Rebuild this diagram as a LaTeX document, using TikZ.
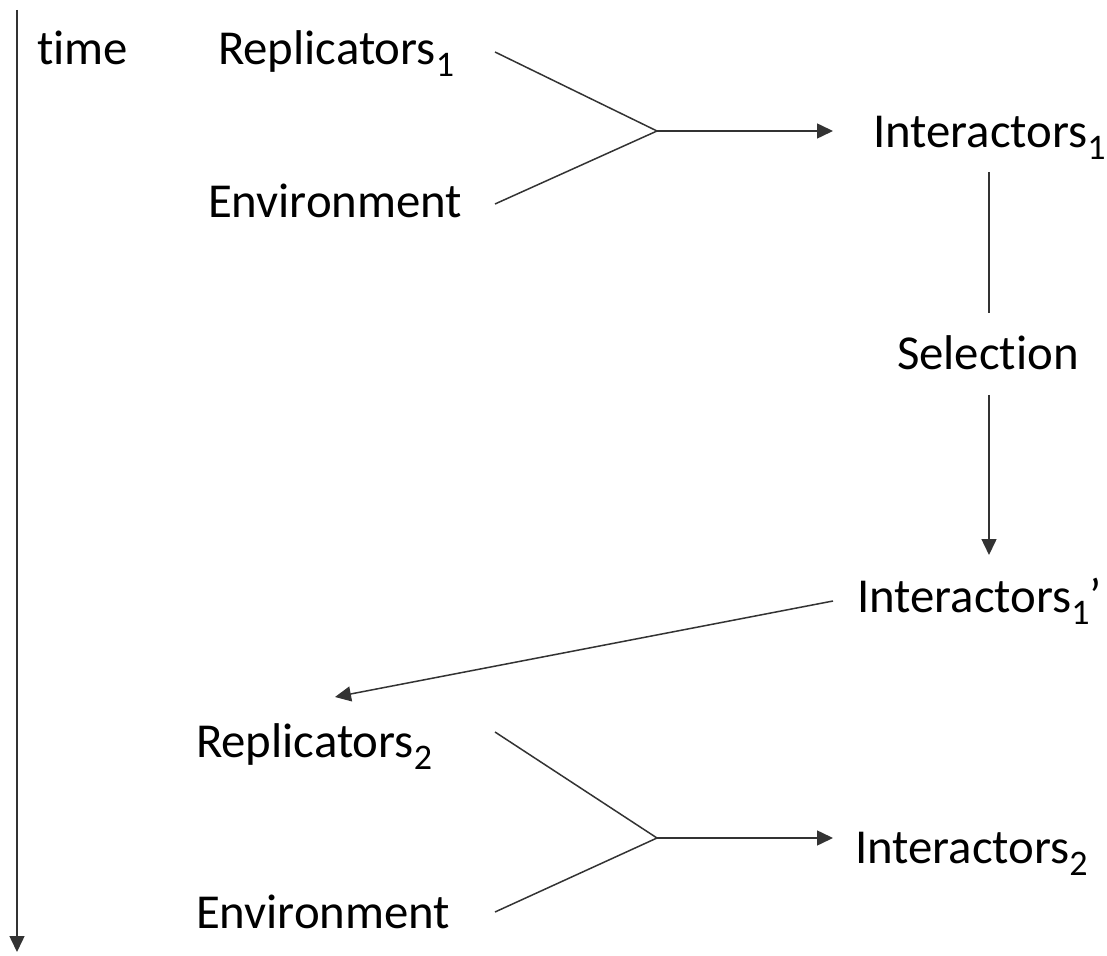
\documentclass[tikz,border=0pt]{standalone}
\usepackage{fontspec}
\setmainfont[Ligatures=NoCommon]{Carlito}
\usetikzlibrary{arrows.meta}
\newcommand\lowsub[1]{\raisebox{-6pt}{\fontsize{18}{18}\selectfont #1}}
\tikzset{
  lbl/.style={anchor=base west, inner sep=0pt, outer sep=0pt, font=\fontsize{24.4}{28}\selectfont},
  conn/.style={draw=black!80, line width=0.75pt},
  arr/.style={conn, -{Triangle[length=8pt,width=7.5pt]}}
}
\begin{document}
\begin{tikzpicture}[x=0.5pt,y=-0.5pt]
\useasboundingbox (0,0) rectangle (1107,956);
% time axis
\coordinate (t0) at (17,10);
\coordinate (t1) at (17,952);
\draw[arr] (t0) -- (t1);
\node[lbl] (time) at (37,65) {time};
% first generation
\node[lbl] (rep1) at (218,65) {Replicators\lowsub{1}};
\node[lbl] (env1) at (208,218) {Environment};
\node[lbl] (int1) at (873,148) {Interactors\lowsub{1}};
\node[lbl] (sel) at (897,370) {Selection};
\node[lbl] (int1p) at (857,612) {Interactors\lowsub{1}’};
% second generation
\node[lbl] (rep2) at (196,757) {Replicators\lowsub{2}};
\node[lbl] (env2) at (196,928) {Environment};
\node[lbl] (int2) at (855,863) {Interactors\lowsub{2}};
% junction coordinates
\coordinate (r1e) at (495,52);
\coordinate (e1e) at (495,204);
\coordinate (j1) at (657,131);
\coordinate (i1w) at (833,131);
\coordinate (i1s) at (989,172);
\coordinate (seln) at (989,313);
\coordinate (sels) at (989,395);
\coordinate (i1pn) at (989,555);
\coordinate (i1pw) at (833,601);
\coordinate (r2n) at (335,697);
\coordinate (r2e) at (495,732);
\coordinate (e2e) at (495,912);
\coordinate (j2) at (657,838);
\coordinate (i2w) at (833,838);
% connectors
\draw[conn] (r1e) -- (j1) -- (e1e);
\draw[arr] (j1) -- (i1w);
\draw[conn] (i1s) -- (seln);
\draw[arr] (sels) -- (i1pn);
\draw[arr] (i1pw) -- (r2n);
\draw[conn] (r2e) -- (j2) -- (e2e);
\draw[arr] (j2) -- (i2w);
\end{tikzpicture}
\end{document}
